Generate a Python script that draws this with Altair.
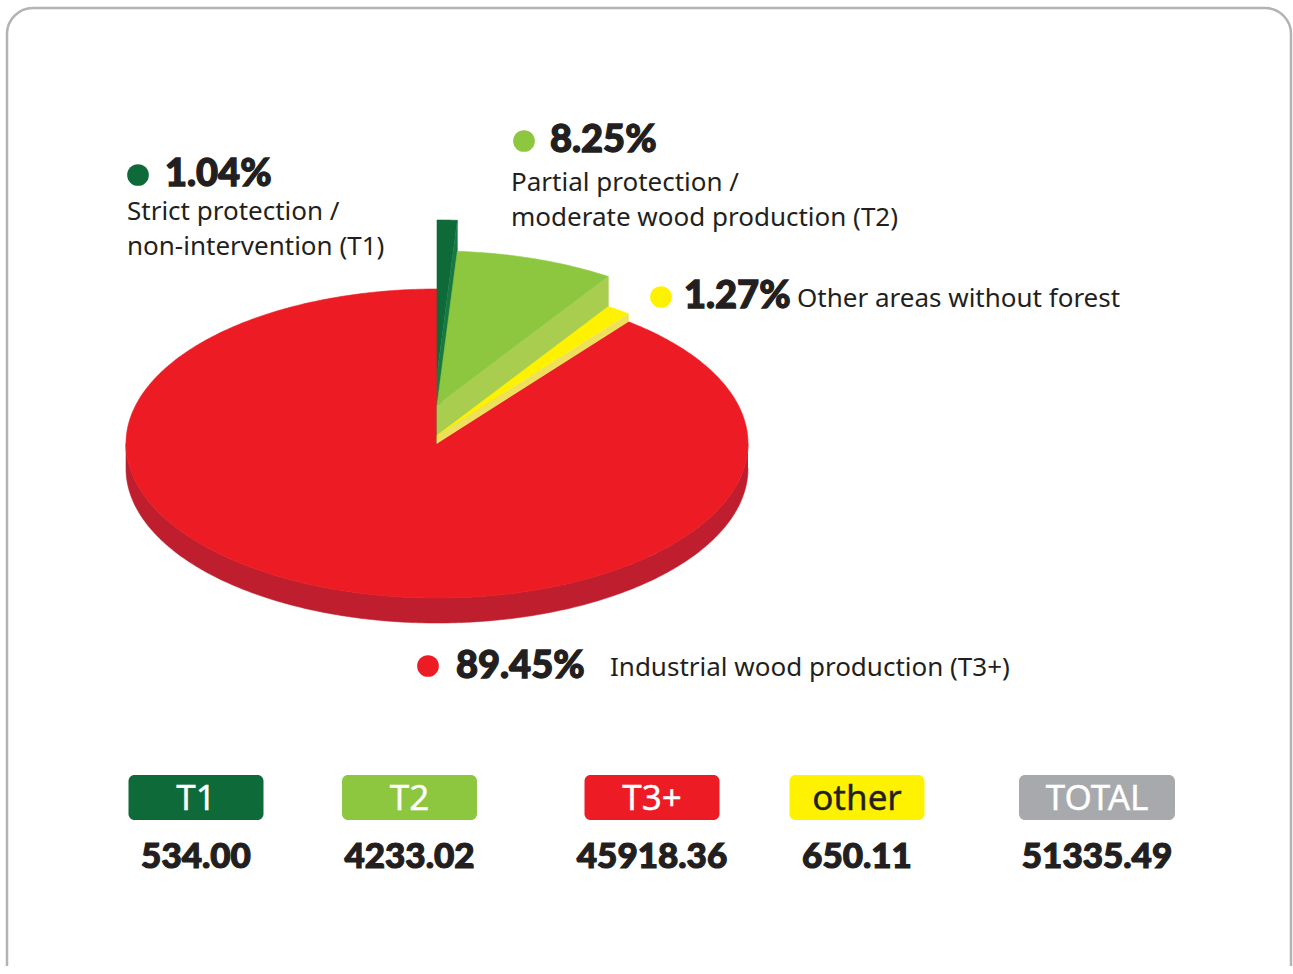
import math
import altair as alt
import pandas as pd

# ---------------- data ----------------
codes = ["T1", "T2", "other", "T3+"]                 # clockwise from 12 o'clock
areas = [534.00, 4233.02, 650.11, 45918.36]
descriptions = [
    "Strict protection /\nnon-intervention (T1)",
    "Partial protection /\nmoderate wood production (T2)",
    "Other areas without forest",
    "Industrial wood production (T3+)",
]
box_order = ["T1", "T2", "T3+", "other", "TOTAL"]

# ---------------- styles / layout ----------------
W, H = 1293, 966
top_col = {"T1": "#0e6a38", "T2": "#8dc63f", "other": "#fff200", "T3+": "#ed1c24", "TOTAL": "#a7a9ac"}
side_col = {"T1": "#17793f", "T2": "#a9ce4f", "other": "#efe05c", "T3+": "#be1e2d"}
lift = {"T1": 69, "T2": 38, "other": 8, "T3+": 0}
CX, CY, RX, RY, DEPTH = 437, 443.5, 311, 154.5, 25
TXT = "#231f20"
BOLD_FONT = "Lato"
REG_FONT = "Noto Sans"

total = sum(areas)
pcts = [a / total * 100 for a in areas]

# ---------------- pie geometry (derived from the values) ----------------
def pt(a, z):
    r = math.radians(a)
    return (CX + RX * math.sin(r), CY - RY * math.cos(r) - z)

def arc(a0, a1, z):
    n = max(2, int(abs(a1 - a0) * 1.5) + 1)
    return [pt(a0 + (a1 - a0) * k / (n - 1), z) for k in range(n)]

starts, acc = [], 0.0
for p in pcts:
    starts.append(acc)
    acc += p * 3.6
ends = [s + p * 3.6 for s, p in zip(starts, pcts)]

polys = []  # (id, color, points)
i_red = codes.index("T3+")
a0, a1 = starts[i_red], ends[i_red]
polys.append(("rim", side_col["T3+"], arc(90, 270, 0) + arc(270, 90, -DEPTH)))
polys.append(("redtop", top_col["T3+"], [(CX, CY)] + arc(a0, a1, 0)))
for c, s, e in zip(codes, starts, ends):
    if c == "T3+":
        continue
    h = lift[c]
    polys.append((c + "_side", side_col[c], [(CX, CY), (CX, CY - h), pt(e, h), pt(e, 0)]))
    polys.append((c + "_top", top_col[c], [(CX, CY - h)] + arc(s, e, h)))

rows = []
for pid, col, pts in polys:
    for k, (x, y) in enumerate(pts):
        rows.append({"poly": pid, "i": k, "x": x, "y": y})
poly_df = pd.DataFrame(rows)

X = lambda f: alt.X(f, type="quantitative", scale=alt.Scale(domain=[0, W], nice=False, zero=False), axis=None)
Y = lambda f: alt.Y(f, type="quantitative", scale=alt.Scale(domain=[0, H], nice=False, zero=False, reverse=True), axis=None)

layers = []
# frame
frame = alt.Chart(pd.DataFrame({"k": [0]})).mark_rect(
    filled=False, stroke="#b3b3b3", strokeWidth=2.5, cornerRadius=26
).encode(x=alt.value(7), x2=alt.value(1291), y=alt.value(8), y2=alt.value(H + 60))
layers.append(frame)

for pid, col, pts in polys:
    layers.append(
        alt.Chart(poly_df).transform_filter(alt.datum.poly == pid)
        .mark_line(fill=col, stroke=col, strokeWidth=0.6, interpolate="linear")
        .encode(x=X("x"), y=Y("y"), order=alt.Order("i:Q"))
    )

# ---------------- labels ----------------
dot_pos = {"T1": (138, 175), "T2": (524, 141), "other": (661, 297), "T3+": (428, 666)}
pct_pos = {"T1": (165, 186), "T2": (550, 152), "other": (684, 308), "T3+": (456, 678)}
desc_pos = {"T1": (127, 220), "T2": (511, 191), "other": (797, 307), "T3+": (610, 676)}

lab = pd.DataFrame({
    "code": codes,
    "pct": [f"{p:.2f}%" for p in pcts],
    "desc": descriptions,
    "dx": [dot_pos[c][0] for c in codes], "dy": [dot_pos[c][1] for c in codes],
    "px": [pct_pos[c][0] for c in codes], "py": [pct_pos[c][1] for c in codes],
    "tx": [desc_pos[c][0] for c in codes], "ty": [desc_pos[c][1] for c in codes],
    "col": [top_col[c] for c in codes],
})

layers.append(alt.Chart(lab).mark_circle(size=470, opacity=1).encode(
    x=X("dx"), y=Y("dy"), color=alt.Color("col:N", scale=None)))
layers.append(alt.Chart(lab).mark_text(
    align="left", baseline="alphabetic", font=BOLD_FONT, fontWeight=900, fontSize=38,
    color=TXT, stroke=TXT, strokeWidth=1.3).encode(x=X("px"), y=Y("py"), text="pct:N"))
layers.append(alt.Chart(lab).mark_text(
    align="left", baseline="alphabetic", font=REG_FONT, fontSize=26, color=TXT,
    lineBreak="\n", lineHeight=35).encode(x=X("tx"), y=Y("ty"), text="desc:N"))

# ---------------- bottom boxes ----------------
box_cx = [196, 409.5, 652, 857, 1097]
box_w = [135, 135, 135, 135, 156]
box_vals = [areas[codes.index(c)] if c in codes else total for c in box_order]
boxes = pd.DataFrame({
    "name": box_order,
    "value": [f"{v:.2f}" for v in box_vals],
    "x0": [c - w / 2 for c, w in zip(box_cx, box_w)],
    "x1": [c + w / 2 for c, w in zip(box_cx, box_w)],
    "xc": box_cx,
    "y0": [775] * 5, "y1": [820] * 5, "ly": [799] * 5, "vy": [868] * 5,
    "col": [top_col[c] for c in box_order],
    "tcol": [TXT if c == "other" else "#ffffff" for c in box_order],
})
layers.append(alt.Chart(boxes).mark_rect(cornerRadius=6).encode(
    x=X("x0"), x2="x1", y=Y("y0"), y2="y1", color=alt.Color("col:N", scale=None)))
layers.append(alt.Chart(boxes).mark_text(
    align="center", baseline="middle", font=REG_FONT, fontSize=35, strokeWidth=0.4).encode(
    x=X("xc"), y=Y("ly"), text="name:N", color=alt.Color("tcol:N", scale=None),
    stroke=alt.Color("tcol:N", scale=None)))
layers.append(alt.Chart(boxes).mark_text(
    align="center", baseline="alphabetic", font=BOLD_FONT, fontWeight=900, fontSize=35,
    color=TXT, stroke=TXT, strokeWidth=1.2).encode(x=X("xc"), y=Y("vy"), text="value:N"))

chart = alt.layer(*layers).properties(
    width=W, height=H, padding=0, autosize=alt.AutoSizeParams(type="none"), background="white"
).configure_view(strokeWidth=0)

chart.save("out.html", embed_options={"renderer": "svg", "actions": False})
